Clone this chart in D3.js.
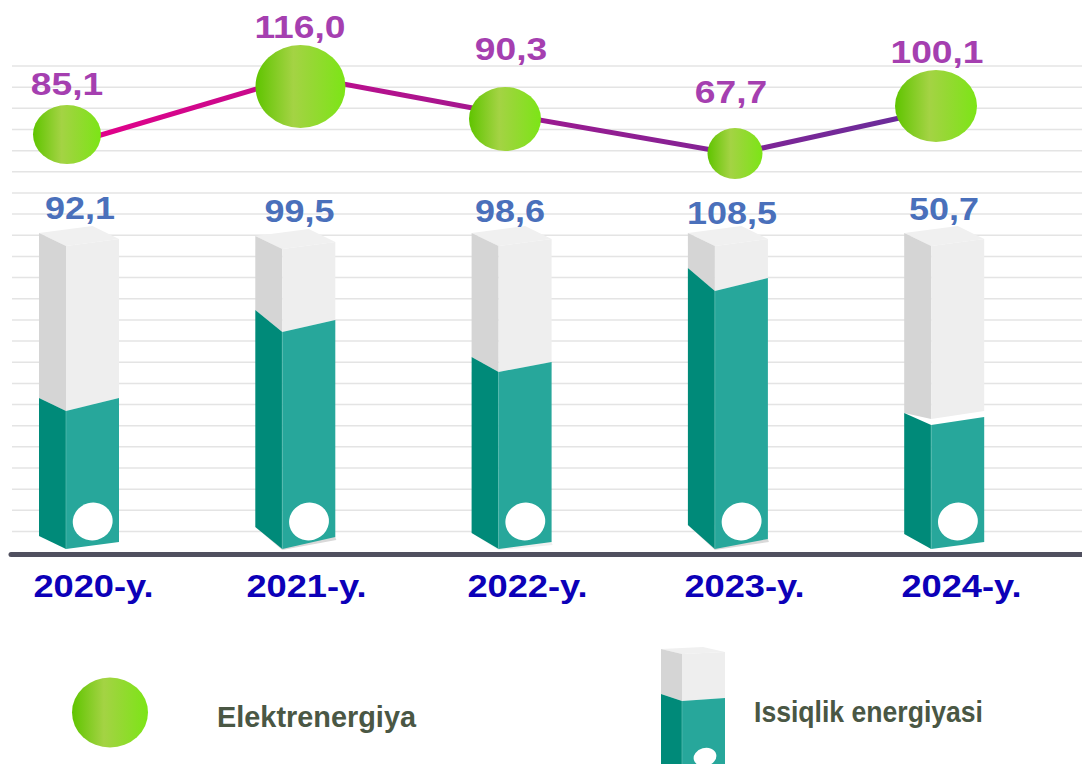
<!DOCTYPE html>
<html>
<head>
<meta charset="utf-8">
<title>Elektrenergiya va issiqlik energiyasi</title>
<script src="https://cdn.jsdelivr.net/npm/d3@7"></script>
<style>
  html, body { margin: 0; padding: 0; background: #fff; }
  svg { display: block; }
  text { font-family: "Liberation Sans", Arial, sans-serif; font-weight: 700; }
</style>
</head>
<body>
<svg id="chart" width="1082" height="764"></svg>
<script>
  // ============================================================
  // Data
  // ============================================================
  const years = ["2020-y.", "2021-y.", "2022-y.", "2023-y.", "2024-y."];
  const electricity = [85.1, 116.0, 90.3, 67.7, 100.1];
  const heat = [92.1, 99.5, 98.6, 108.5, 50.7];
  const legendLabels = ["Elektrenergiya", "Issiqlik energiyasi"];
  const gridSteps = d3.range(23);

  const fmt = v => v.toFixed(1).replace(".", ",");

  // ============================================================
  // Scales (the source is an infographic and not drawn to a strict
  // linear scale, so value scales are piecewise)
  // ============================================================
  const byYear = range => d3.scaleOrdinal().domain(years).range(range);
  const byValue = (values, range) => d3.scaleLinear().domain(d3.sort(values)).range(range);

  const svg = d3.select("#chart");

  const grid = d3.scaleLinear().domain([0, 22]).range([66, 531.5]);
  const barX = d3.scaleBand().domain(years).range([39, 1120.5]).paddingInner(0).paddingOuter(0);

  const bubbleX = byYear([67, 300.5, 505, 735, 936]);
  const bubbleY = byValue(electricity, [153.5, 134.5, 119, 106, 86.5]);
  const bubbleRx = byValue(electricity, [27.5, 34, 36, 41, 45]);
  const bubbleRy = byValue(electricity, [25.5, 29.5, 32, 36, 41.5]);
  const lineY = byValue(electricity, [154, 145, 114, 110, 76]);

  const heatY = byValue(heat, [417, 398, 362, 320, 278]);

  const elecLabelX = byYear([67, 300, 511, 731, 937]);
  const elecLabelY = byYear([95, 38, 60, 103, 63]);
  const heatLabelX = byYear([80, 299.5, 510, 732, 944]);
  const heatLabelY = byYear([219, 222, 222, 224, 220]);
  const yearX = byYear([93, 306, 527, 744, 961]);

  // column outline bits that change per year
  const topOffset = byYear([0, 3, 0, 0, 0]);
  const bottomLeft = byYear([536, 527, 533, 525, 534]);
  const bottomRight = byYear([542, 537, 542, 539, 542]);
  const slantLeft = byYear([0, -10, -5, -10, -4]);
  const slantCorner = byYear([13, 12, 10, 13, 8]);
  const shadow = byYear([0, 1, 0.4, 1, 0]);

  // ============================================================
  // Gradients
  // ============================================================
  const defs = svg.append("defs");

  const bubbleGrad = defs.append("linearGradient").attr("id", "bubbleFill");
  bubbleGrad.selectAll("stop")
    .data([[0, "#5fc400"], [0.42, "#a4d344"], [0.62, "#96d834"], [1, "#7ce516"]])
    .enter().append("stop")
    .attr("offset", d => d[0]).attr("stop-color", d => d[1]);

  const lineGrad = defs.append("linearGradient").attr("id", "lineStroke");
  lineGrad.selectAll("stop")
    .data([[0, "#e6008a"], [0.5, "#a0188f"], [1, "#662e9b"]])
    .enter().append("stop")
    .attr("offset", d => d[0]).attr("stop-color", d => d[1]);

  // ============================================================
  // Grid and baseline
  // ============================================================
  svg.append("g").selectAll("line")
    .data(gridSteps)
    .enter().append("line")
    .attr("x1", 12).attr("x2", 1082)
    .attr("y1", d => grid(d)).attr("y2", d => grid(d))
    .attr("stroke", "#e4e4e4").attr("stroke-width", 1.5);

  svg.append("line")
    .attr("x1", 11).attr("x2", 1090)
    .attr("y1", 554.5).attr("y2", 554.5)
    .attr("stroke", "#50505f").attr("stroke-width", 5)
    .attr("stroke-linecap", "round");

  // ============================================================
  // Columns
  // ============================================================
  const pts = arr => arr.map(p => p.join(",")).join(" ");

  function drawColumn(g, c) {
    const { x0, x1, x2, back, top, topCorner, topRight, topBack,
            fillLeft, fillCorner, fillRight, grayLeft, grayCorner, grayRight,
            botLeft, botCorner, botRight, ell } = c;

    g.append("polygon").attr("points", pts([[x0, top], [x1, topCorner], [x2, topRight], [back, topBack]]))
      .attr("fill", "#f0f0f0");
    g.append("polygon").attr("points", pts([[x0, top], [x1, topCorner], [x1, grayCorner], [x0, grayLeft]]))
      .attr("fill", "#d5d5d5");
    g.append("polygon").attr("points", pts([[x1, topCorner], [x2, topRight], [x2, grayRight], [x1, grayCorner]]))
      .attr("fill", "#eeeeee");
    g.append("polygon").attr("points", pts([[x0, fillLeft], [x1, fillCorner], [x1, botCorner], [x0, botLeft]]))
      .attr("fill", "#008a79");
    g.append("polygon").attr("points", pts([[x1, fillCorner], [x2, fillRight], [x2, botRight], [x1, botCorner]]))
      .attr("fill", "#27a79b");
    g.append("line")
      .attr("x1", x1).attr("x2", x1).attr("y1", fillCorner).attr("y2", botCorner)
      .attr("stroke", "#5cbdb2").attr("stroke-width", 0.7);
    g.append("ellipse")
      .attr("cx", ell.cx).attr("cy", ell.cy)
      .attr("rx", ell.rx).attr("ry", ell.ry)
      .attr("transform", `rotate(-15,${ell.cx},${ell.cy})`)
      .attr("fill", "#fff");
  }

  years.forEach((year, i) => {
    const x0 = barX(year);
    const x1 = x0 + 27, x2 = x0 + 80, back = x0 + 53.5;
    const off = topOffset(year);
    const right = heatY(heat[i]);
    const g = svg.append("g").attr("class", "column");

    // soft shadow under the taller columns
    if (shadow(year) > 0) {
      g.append("polygon")
        .attr("points", pts([[x0, bottomLeft(year)], [x1, 550], [x2 + 1, bottomRight(year) + 3], [x2, bottomRight(year)]]))
        .attr("fill", "#d9d9d9").attr("opacity", shadow(year));
    }

    const isGapped = heat[i] === d3.min(heat);
    drawColumn(g, {
      x0, x1, x2, back,
      top: 233 + off, topCorner: 246 + off, topRight: 239 + off, topBack: 226 + off,
      fillLeft: right + slantLeft(year),
      fillCorner: right + slantCorner(year),
      fillRight: right,
      grayLeft: right + slantLeft(year),
      // the shortest column leaves a thin white gap under its grey face
      grayCorner: right + slantCorner(year) - (isGapped ? 6 : 0),
      grayRight: right - (isGapped ? 6 : 0),
      botLeft: bottomLeft(year), botCorner: 549, botRight: bottomRight(year),
      ell: { cx: x0 + 53.7, cy: 521.5, rx: 20, ry: 18.8 }
    });
  });

  // ============================================================
  // Electricity line and bubbles
  // ============================================================
  const line = d3.line()
    .x(d => bubbleX(d.year))
    .y(d => lineY(d.value));

  const elecData = years.map((year, i) => ({ year, value: electricity[i] }));
  const heatData = years.map((year, i) => ({ year, value: heat[i] }));

  svg.append("path")
    .datum(elecData)
    .attr("d", line)
    .attr("fill", "none")
    .attr("stroke", "url(#lineStroke)")
    .attr("stroke-width", 5);

  svg.append("g").selectAll("ellipse")
    .data(elecData)
    .enter().append("ellipse")
    .attr("cx", d => bubbleX(d.year))
    .attr("cy", d => bubbleY(d.value))
    .attr("rx", d => bubbleRx(d.value))
    .attr("ry", d => bubbleRy(d.value))
    .attr("fill", "url(#bubbleFill)");

  // ============================================================
  // Value labels (wide, stretched bold type in the source)
  // ============================================================
  svg.append("g").selectAll("text")
    .data(elecData)
    .enter().append("text")
    .attr("transform", d => `translate(${elecLabelX(d.year)},${elecLabelY(d.value === 0 ? 0 : d.year)}) scale(1.2,1)`)
    .attr("text-anchor", "middle")
    .attr("font-size", 31)
    .attr("fill", "#a53fb0")
    .text(d => fmt(d.value));

  svg.append("g").selectAll("text")
    .data(heatData)
    .enter().append("text")
    .attr("transform", d => `translate(${heatLabelX(d.year)},${heatLabelY(d.year)}) scale(1.16,1)`)
    .attr("text-anchor", "middle")
    .attr("font-size", 31)
    .attr("fill", "#4a70bb")
    .text(d => fmt(d.value));

  // ============================================================
  // Year axis
  // ============================================================
  const xAxis = svg.append("g")
    .attr("transform", "translate(0,597)")
    .call(d3.axisBottom(yearX).tickSize(0));
  xAxis.select(".domain").remove();
  xAxis.selectAll("text")
    .attr("y", 0).attr("dy", 0)
    .attr("transform", "scale(1.17,1)")
    .attr("font-family", "Liberation Sans").attr("font-weight", 700)
    .attr("font-size", 31).attr("fill", "#0c00b8");

  // ============================================================
  // Legend
  // ============================================================
  const legend = svg.append("g");

  legend.append("ellipse")
    .attr("cx", 110).attr("cy", 712.5).attr("rx", 38).attr("ry", 35)
    .attr("fill", "url(#bubbleFill)");

  drawColumn(legend, {
    x0: 661, x1: 682, x2: 725, back: 703,
    top: 649, topCorner: 654, topRight: 652, topBack: 647,
    fillLeft: 694, fillCorner: 701, fillRight: 698,
    grayLeft: 694, grayCorner: 701, grayRight: 698,
    botLeft: 764, botCorner: 770, botRight: 770,
    ell: { cx: 705, cy: 757, rx: 11.5, ry: 9 }
  });

  legend.selectAll("text")
    .data(legendLabels)
    .enter().append("text")
    .attr("x", (d, i) => i === 0 ? 217 : 754)
    .attr("y", (d, i) => i === 0 ? 727 : 722)
    .attr("font-size", 30)
    .attr("fill", "#4a5744")
    .attr("textLength", (d, i) => i === 0 ? 199 : 229)
    .attr("lengthAdjust", "spacingAndGlyphs")
    .text(d => d);
</script>
</body>
</html>
